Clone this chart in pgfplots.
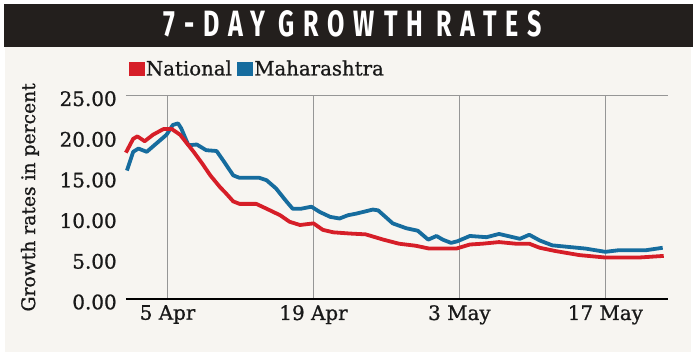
\documentclass[border=0pt]{standalone}
\usepackage{fontspec}
\setmainfont{DejaVu Serif}[FakeBold=0.9]
\newfontfamily\titlefont[LetterSpace=36]{Fira Sans}
\usepackage{pgfplots}
\pgfplotsset{compat=1.18}
\usepackage{pgfplotstable}
\definecolor{natred}{RGB}{214,30,40}
\definecolor{mahblue}{RGB}{22,108,158}
\definecolor{panel}{RGB}{247,245,241}
\definecolor{titlebg}{RGB}{35,31,29}
\definecolor{gridgray}{RGB}{150,150,150}

\pgfplotstableread{
day val
1 18.0
1.7 19.7
2.1 20.0
2.8 19.4
3.6 20.2
4.6 20.9
5.4 20.9
6.2 20.2
7.5 18.1
8.3 16.7
9.1 15.2
10 13.8
10.6 13.0
11.3 12.0
11.9 11.7
13.5 11.7
14.5 11.1
15.8 10.3
16.7 9.5
17.7 9.1
19 9.3
19.9 8.5
20.9 8.2
22.5 8.05
24 7.95
25.7 7.3
27.2 6.8
28.8 6.55
30.1 6.2
32.7 6.2
34 6.7
35.2 6.8
36.8 7.0
38.4 6.8
39.7 6.8
40.7 6.3
42.2 5.9
44.5 5.4
47 5.1
50.2 5.1
52.6 5.3
}\national

\pgfplotstableread{
day val
1.1 15.8
1.7 18.1
2.2 18.5
3 18.1
3.9 19.1
4.9 20.2
5.5 21.4
6 21.6
6.3 21.0
7 18.9
7.8 19.0
8.7 18.3
9.7 18.2
10.3 17.1
11.3 15.2
11.9 14.9
13.8 14.9
14.5 14.6
15.4 13.6
16.4 12.0
17 11.1
17.8 11.1
18.8 11.35
19.6 10.7
20.6 10.1
21.5 9.9
22.3 10.3
23.1 10.5
24.7 11.0
25.2 10.9
26.6 9.3
27.9 8.7
29 8.4
30 7.3
30.8 7.75
31.4 7.3
32.2 6.9
32.8 7.1
34 7.75
35.6 7.6
36.8 8.0
37.8 7.7
38.8 7.4
39.7 7.9
40.7 7.2
41.9 6.6
43.5 6.4
45.1 6.2
47 5.8
48.3 6.0
50.9 6.0
52.5 6.3
}\maharashtra

\begin{document}
\begin{tikzpicture}[x=1bp,y=1bp]
\useasboundingbox (0,0) rectangle (697,361);
\fill[white] (0,0) rectangle (697,361);
\fill[panel] (5,9) rectangle (690.7,314);
\fill[titlebg] (4,314) rectangle (693,357);
\node[text=white, inner sep=0pt] at (353,337.6)
  {\resizebox{378bp}{26bp}{\titlefont\bfseries 7-DAY\rule{0.5em}{0pt}GROWTH\rule{0.5em}{0pt}RATES}};
\begin{axis}[
  at={(125.9bp,62bp)}, anchor=origin,
  scale only axis, width=542bp, height=203.3bp,
  xmin=1, xmax=53, ymin=0, ymax=25,
  axis x line*=bottom, axis y line*=left,
  x axis line style={black, line width=2bp},
  y axis line style={draw=none},
  xtick={5,19,33,47},
  xticklabels={5 Apr,19 Apr,3 May,17 May},
  ytick={0,5,10,15,20,25},
  yticklabels={0.00,5.00,10.00,15.00,20.00,25.00},
  major tick length=0pt,
  xmajorgrids=true,
  major grid style={gridgray, line width=1.3bp},
  extra y ticks={25}, extra y tick labels={},
  extra y tick style={ymajorgrids=true, major grid style={gridgray, line width=1.3bp}},
  /pgf/number format/assume math mode=true,
  tick label style={font=\fontsize{20}{24}\selectfont, text=black!90},
  yticklabel style={anchor=east, inner sep=0pt, xshift=-9bp, yshift=-3bp},
  xticklabel style={anchor=north, inner sep=0pt, yshift=-6bp},
  ylabel={Growth rates in percent},
  every axis y label/.style={at={(axis description cs:0,0.5)}, rotate=90, anchor=center, yshift=96bp, font=\fontsize{18.8}{22}\selectfont, text=black!90},
  legend columns=2,
  legend style={draw=none, fill=none, at={(0,1)}, anchor=west, xshift=3bp, yshift=27bp, inner sep=0pt,
    font=\fontsize{19.8}{22}\selectfont, text=black!90,
    /tikz/every even column/.append style={column sep=4bp},
    nodes={inner sep=1.5bp}},
  legend image code/.code={\fill[#1] (0bp,-6.5bp) rectangle (15bp,6.5bp);},
  clip=false,
]
\addplot[mahblue, line width=3.8bp, line join=round, forget plot] table[x=day,y=val]{\maharashtra};
\addplot[natred, line width=3.8bp, line join=round, forget plot] table[x=day,y=val]{\national};
\addlegendimage{natred, fill=natred}
\addlegendentry{National}
\addlegendimage{mahblue, fill=mahblue}
\addlegendentry{Maharashtra}
\end{axis}
\end{tikzpicture}
\end{document}
